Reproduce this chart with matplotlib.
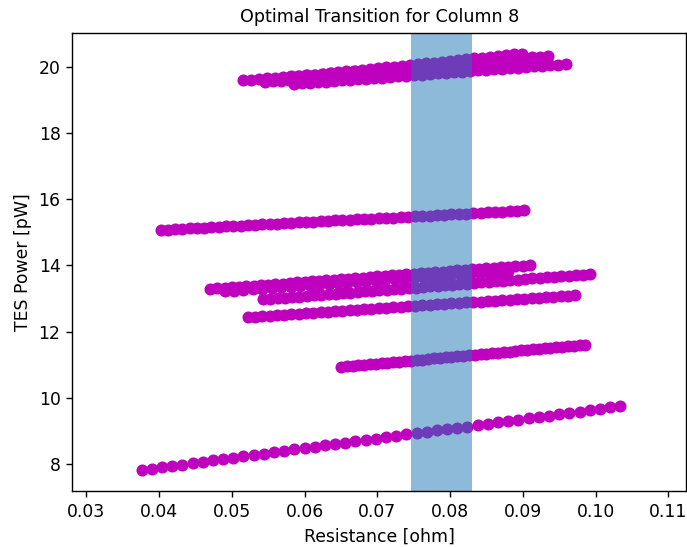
import numpy as np
import matplotlib
matplotlib.use("Agg")
import matplotlib.pyplot as plt

# sweeps: resistance [ohm] and TES power [pW]
r_sweep1 = [0.0376, 0.0390, 0.0404, 0.0418, 0.0432, 0.0446, 0.0460, 0.0474, 0.0488, 0.0502,
            0.0516, 0.0530, 0.0544, 0.0558, 0.0572, 0.0586, 0.0600, 0.0614, 0.0628, 0.0642,
            0.0656, 0.0670, 0.0684, 0.0698, 0.0712, 0.0726, 0.0740, 0.0754, 0.0768, 0.0782,
            0.0796, 0.0810, 0.0824, 0.0838, 0.0852, 0.0866, 0.0880, 0.0894, 0.0908, 0.0922,
            0.0936, 0.0950, 0.0964, 0.0978, 0.0992, 0.1006, 0.1020, 0.1034]
p_sweep1 = [7.82, 7.86, 7.90, 7.94, 7.98, 8.03, 8.07, 8.11, 8.15, 8.19,
            8.23, 8.27, 8.31, 8.35, 8.39, 8.44, 8.48, 8.52, 8.56, 8.60,
            8.64, 8.68, 8.72, 8.76, 8.80, 8.85, 8.89, 8.93, 8.97, 9.01,
            9.05, 9.09, 9.13, 9.17, 9.21, 9.26, 9.30, 9.34, 9.38, 9.42,
            9.46, 9.50, 9.54, 9.58, 9.62, 9.67, 9.71, 9.75]

r_sweep2 = [0.0650, 0.0658, 0.0666, 0.0674, 0.0682, 0.0690, 0.0698, 0.0706, 0.0714, 0.0722,
            0.0730, 0.0738, 0.0746, 0.0754, 0.0762, 0.0770, 0.0778, 0.0786, 0.0794, 0.0802,
            0.0810, 0.0818, 0.0826, 0.0834, 0.0842, 0.0850, 0.0858, 0.0866, 0.0874, 0.0882,
            0.0890, 0.0898, 0.0906, 0.0914, 0.0922, 0.0930, 0.0938, 0.0946, 0.0954, 0.0962,
            0.0970, 0.0978, 0.0986]
p_sweep2 = [10.93, 10.95, 10.96, 10.98, 10.99, 11.01, 11.03, 11.04, 11.06, 11.07,
            11.09, 11.11, 11.12, 11.14, 11.15, 11.17, 11.19, 11.20, 11.22, 11.23,
            11.25, 11.27, 11.28, 11.30, 11.31, 11.33, 11.35, 11.36, 11.38, 11.39,
            11.41, 11.43, 11.44, 11.46, 11.47, 11.49, 11.51, 11.52, 11.54, 11.55,
            11.57, 11.59, 11.60]

r_sweep3 = [0.0522, 0.0532, 0.0542, 0.0552, 0.0562, 0.0572, 0.0582, 0.0592, 0.0602, 0.0612,
            0.0622, 0.0632, 0.0642, 0.0652, 0.0662, 0.0672, 0.0682, 0.0692, 0.0702, 0.0712,
            0.0722, 0.0732, 0.0742, 0.0752, 0.0762, 0.0772, 0.0782, 0.0792, 0.0802, 0.0812,
            0.0822, 0.0832, 0.0842, 0.0852, 0.0862, 0.0872, 0.0882, 0.0892, 0.0902, 0.0912,
            0.0922, 0.0932, 0.0942, 0.0952, 0.0962, 0.0972]
p_sweep3 = [12.44, 12.45, 12.47, 12.48, 12.50, 12.51, 12.53, 12.54, 12.56, 12.57,
            12.59, 12.60, 12.62, 12.63, 12.65, 12.66, 12.67, 12.69, 12.70, 12.72,
            12.73, 12.75, 12.76, 12.78, 12.79, 12.81, 12.82, 12.84, 12.85, 12.87,
            12.88, 12.89, 12.91, 12.92, 12.94, 12.95, 12.97, 12.98, 13.00, 13.01,
            13.03, 13.04, 13.06, 13.07, 13.09, 13.10]

r_sweep4 = [0.0543, 0.0553, 0.0563, 0.0573, 0.0583, 0.0593, 0.0603, 0.0613, 0.0623, 0.0633,
            0.0643, 0.0653, 0.0663, 0.0673, 0.0683, 0.0693, 0.0703, 0.0713, 0.0723, 0.0733,
            0.0743, 0.0753, 0.0763, 0.0773, 0.0783, 0.0793, 0.0803, 0.0813, 0.0823, 0.0833,
            0.0843, 0.0853, 0.0863, 0.0873, 0.0883, 0.0893, 0.0903, 0.0913, 0.0923, 0.0933,
            0.0943, 0.0953, 0.0963, 0.0973, 0.0983, 0.0993]
p_sweep4 = [12.98, 13.00, 13.01, 13.03, 13.05, 13.06, 13.08, 13.10, 13.11, 13.13,
            13.15, 13.17, 13.18, 13.20, 13.22, 13.23, 13.25, 13.27, 13.28, 13.30,
            13.32, 13.33, 13.35, 13.37, 13.39, 13.40, 13.42, 13.44, 13.45, 13.47,
            13.49, 13.50, 13.52, 13.54, 13.55, 13.57, 13.59, 13.61, 13.62, 13.64,
            13.66, 13.67, 13.69, 13.71, 13.72, 13.74]

r_sweep5 = [0.0490, 0.0503, 0.0516, 0.0529, 0.0542, 0.0555, 0.0568, 0.0581, 0.0594, 0.0607,
            0.0620, 0.0633, 0.0646, 0.0659, 0.0672, 0.0685, 0.0698, 0.0711, 0.0724, 0.0737,
            0.0750, 0.0763, 0.0776, 0.0789, 0.0802, 0.0815, 0.0828, 0.0841, 0.0854, 0.0867,
            0.0880]
p_sweep5 = [13.22, 13.24, 13.26, 13.28, 13.30, 13.32, 13.34, 13.36, 13.38, 13.40,
            13.42, 13.44, 13.46, 13.48, 13.50, 13.52, 13.54, 13.56, 13.58, 13.60,
            13.62, 13.64, 13.66, 13.68, 13.70, 13.72, 13.74, 13.76, 13.78, 13.80,
            13.82]

r_sweep6 = [0.0470, 0.0480, 0.0490, 0.0500, 0.0510, 0.0520, 0.0530, 0.0540, 0.0550, 0.0560,
            0.0570, 0.0580, 0.0590, 0.0600, 0.0610, 0.0620, 0.0630, 0.0640, 0.0650, 0.0660,
            0.0670, 0.0680, 0.0690, 0.0700, 0.0710, 0.0720, 0.0730, 0.0740, 0.0750, 0.0760,
            0.0770, 0.0780, 0.0790, 0.0800, 0.0810, 0.0820, 0.0830, 0.0840, 0.0850, 0.0860,
            0.0870, 0.0880, 0.0890, 0.0900, 0.0910]
p_sweep6 = [13.29, 13.31, 13.32, 13.34, 13.36, 13.37, 13.39, 13.40, 13.42, 13.44,
            13.45, 13.47, 13.49, 13.50, 13.52, 13.54, 13.55, 13.57, 13.58, 13.60,
            13.62, 13.63, 13.65, 13.67, 13.68, 13.70, 13.72, 13.73, 13.75, 13.76,
            13.78, 13.80, 13.81, 13.83, 13.85, 13.86, 13.88, 13.90, 13.91, 13.93,
            13.94, 13.96, 13.98, 13.99, 14.01]

r_sweep7 = [0.0402, 0.0412, 0.0422, 0.0432, 0.0442, 0.0452, 0.0462, 0.0472, 0.0482, 0.0492,
            0.0502, 0.0512, 0.0522, 0.0532, 0.0542, 0.0552, 0.0562, 0.0572, 0.0582, 0.0592,
            0.0602, 0.0612, 0.0622, 0.0632, 0.0642, 0.0652, 0.0662, 0.0672, 0.0682, 0.0692,
            0.0702, 0.0712, 0.0722, 0.0732, 0.0742, 0.0752, 0.0762, 0.0772, 0.0782, 0.0792,
            0.0802, 0.0812, 0.0822, 0.0832, 0.0842, 0.0852, 0.0862, 0.0872, 0.0882, 0.0892,
            0.0902]
p_sweep7 = [15.07, 15.08, 15.09, 15.11, 15.12, 15.13, 15.14, 15.15, 15.17, 15.18,
            15.19, 15.20, 15.21, 15.23, 15.24, 15.25, 15.26, 15.27, 15.29, 15.30,
            15.31, 15.32, 15.33, 15.35, 15.36, 15.37, 15.38, 15.39, 15.41, 15.42,
            15.43, 15.44, 15.45, 15.47, 15.48, 15.49, 15.50, 15.51, 15.53, 15.54,
            15.55, 15.56, 15.57, 15.59, 15.60, 15.61, 15.62, 15.63, 15.65, 15.66,
            15.67]

r_sweep8 = [0.0585, 0.0596, 0.0607, 0.0618, 0.0629, 0.0640, 0.0651, 0.0662, 0.0673, 0.0684,
            0.0695, 0.0706, 0.0717, 0.0728, 0.0739, 0.0750, 0.0761, 0.0772, 0.0783, 0.0794,
            0.0805, 0.0816, 0.0827, 0.0838, 0.0849, 0.0860, 0.0871, 0.0882, 0.0893, 0.0904,
            0.0915, 0.0926, 0.0937, 0.0948, 0.0959]
p_sweep8 = [19.49, 19.51, 19.53, 19.54, 19.56, 19.58, 19.60, 19.61, 19.63, 19.65,
            19.67, 19.68, 19.70, 19.72, 19.74, 19.75, 19.77, 19.79, 19.81, 19.83,
            19.84, 19.86, 19.88, 19.90, 19.91, 19.93, 19.95, 19.97, 19.98, 20.00,
            20.02, 20.04, 20.05, 20.07, 20.09]

r_sweep9 = [0.0580, 0.0591, 0.0602, 0.0613, 0.0624, 0.0635, 0.0646, 0.0657, 0.0668, 0.0679,
            0.0690, 0.0701, 0.0712, 0.0723, 0.0734, 0.0745, 0.0756, 0.0767, 0.0778, 0.0789,
            0.0800, 0.0811, 0.0822, 0.0833, 0.0844, 0.0855, 0.0866, 0.0877, 0.0888, 0.0899]
p_sweep9 = [19.70, 19.72, 19.75, 19.77, 19.80, 19.82, 19.84, 19.87, 19.89, 19.92,
            19.94, 19.97, 19.99, 20.01, 20.04, 20.06, 20.09, 20.11, 20.13, 20.16,
            20.18, 20.21, 20.23, 20.26, 20.28, 20.30, 20.33, 20.35, 20.38, 20.40]

r_sweep10 = [0.0516, 0.0527, 0.0538, 0.0549, 0.0560, 0.0571, 0.0582, 0.0593, 0.0604, 0.0615,
             0.0626, 0.0637, 0.0648, 0.0659, 0.0670, 0.0681, 0.0692, 0.0703, 0.0714, 0.0725,
             0.0736, 0.0747, 0.0758, 0.0769, 0.0780, 0.0791, 0.0802, 0.0813, 0.0824, 0.0835,
             0.0846, 0.0857, 0.0868, 0.0879, 0.0890, 0.0901, 0.0912, 0.0923, 0.0934]
p_sweep10 = [19.60, 19.62, 19.64, 19.66, 19.68, 19.70, 19.72, 19.73, 19.75, 19.77,
             19.79, 19.81, 19.83, 19.85, 19.87, 19.89, 19.91, 19.93, 19.95, 19.96,
             19.98, 20.00, 20.02, 20.04, 20.06, 20.08, 20.10, 20.12, 20.14, 20.16,
             20.18, 20.20, 20.21, 20.23, 20.25, 20.27, 20.29, 20.31, 20.33]

r_sweep11 = [0.0545, 0.0556, 0.0567, 0.0578, 0.0589, 0.0600, 0.0611, 0.0622, 0.0633, 0.0644,
             0.0655, 0.0666, 0.0677, 0.0688, 0.0699, 0.0710, 0.0721, 0.0732, 0.0743, 0.0754,
             0.0765, 0.0776, 0.0787, 0.0798, 0.0809, 0.0820, 0.0831, 0.0842, 0.0853, 0.0864,
             0.0875, 0.0886, 0.0897, 0.0908, 0.0919]
p_sweep11 = [19.55, 19.57, 19.59, 19.61, 19.63, 19.65, 19.67, 19.69, 19.71, 19.73,
             19.75, 19.77, 19.79, 19.81, 19.83, 19.85, 19.87, 19.89, 19.90, 19.92,
             19.94, 19.96, 19.98, 20.00, 20.02, 20.04, 20.06, 20.08, 20.10, 20.12,
             20.14, 20.16, 20.18, 20.20, 20.22]

# optimal transition window
r_low, r_high = 0.0747, 0.0830

sweeps = [(r_sweep1, p_sweep1), (r_sweep2, p_sweep2), (r_sweep3, p_sweep3),
          (r_sweep4, p_sweep4), (r_sweep5, p_sweep5), (r_sweep6, p_sweep6),
          (r_sweep7, p_sweep7), (r_sweep8, p_sweep8), (r_sweep9, p_sweep9),
          (r_sweep10, p_sweep10), (r_sweep11, p_sweep11)]

fig = plt.figure(figsize=(6.87, 5.47), dpi=100)
ax = fig.add_axes([0.1055, 0.1024, 0.8937, 0.8373])

for r, p in sweeps:
    ax.scatter(r, p, color='m', s=55, linewidths=1.25)

ax.axvspan(r_low, r_high, alpha=0.5)

ax.set_xlim(0.0281, 0.1125)
ax.set_ylim(7.18, 21.03)
ax.set_xticks(np.arange(0.03, 0.115, 0.01))

ax.tick_params(labelsize=12.4, length=4.3, width=1.0, pad=4.3)
for s in ax.spines.values():
    s.set_linewidth(1.0)

ax.set_xlabel("Resistance [ohm]", fontsize=12.4, labelpad=5)
ax.set_ylabel("TES Power [pW]", fontsize=12.4, labelpad=5)
ax.set_title("Optimal Transition for Column 8", fontsize=12.6, pad=8)

fig.savefig("out.png", dpi=100)
